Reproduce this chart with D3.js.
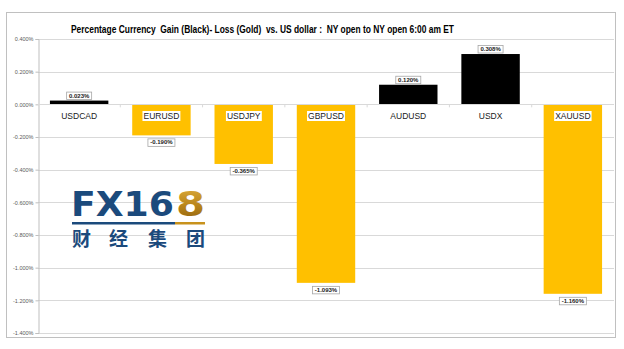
<!DOCTYPE html>
<html><head><meta charset="utf-8">
<script src="https://cdn.jsdelivr.net/npm/d3@7"></script>
<style>body{margin:0;background:#fff}svg{display:block}</style>
</head><body>
<script>
const categories = ["USDCAD","EURUSD","USDJPY","GBPUSD","AUDUSD","USDX","XAUUSD"];
const values = [0.023,-0.190,-0.365,-1.093,0.120,0.308,-1.160];
const yTicks = [0.4,0.2,0,-0.2,-0.4,-0.6,-0.8,-1.0,-1.2,-1.4];
const title = "Percentage Currency  Gain (Black)- Loss (Gold)  vs. US dollar :  NY open to NY open 6:00 am ET";

const pct = d => (d<0?"-":"") + Math.abs(d).toFixed(3) + "%";

const W=624,H=349;
const svg=d3.select("body").append("svg").attr("width",W).attr("height",H);
svg.append("rect").attr("x",6.5).attr("y",12.5).attr("width",609).attr("height",325)
  .attr("fill","#fff").attr("stroke","#c0c0c0").attr("stroke-width",1);

const x=d3.scaleBand().domain(categories).range([38,614]).paddingInner(0.29).paddingOuter(0.145);
const y=d3.scaleLinear().domain([-1.4,0.4]).range([333,39]);

// gridlines
svg.append("g").selectAll("line").data(yTicks).join("line")
  .attr("x1",38).attr("x2",614).attr("y1",d=>Math.round(y(d))+0.5).attr("y2",d=>Math.round(y(d))+0.5)
  .attr("stroke","#d9d9d9").attr("stroke-width",1);

// y axis
const ya=svg.append("g").attr("transform","translate(38.5,0)")
  .call(d3.axisLeft(y).tickValues(yTicks).tickSize(3).tickFormat(d=>pct(Math.abs(d)<1e-9?0:d)));
ya.select(".domain").attr("stroke","#bfbfbf");
ya.selectAll(".tick line").attr("stroke","#bfbfbf");
ya.selectAll(".tick text").attr("font-family","Liberation Sans, Arial").attr("font-size",5.5).attr("fill","#595959").attr("x",-5);

// logo
const logo=svg.append("g");
const defs=svg.append("defs");
const gr=defs.append("linearGradient").attr("id","gold").attr("x1",0).attr("y1",0).attr("x2",0).attr("y2",1);
gr.append("stop").attr("offset","0%").attr("stop-color","#e0b040");
gr.append("stop").attr("offset","55%").attr("stop-color","#b8841a");
gr.append("stop").attr("offset","100%").attr("stop-color","#8a5e0e");
logo.append("text").attr("x",71).attr("y",216).attr("font-family","DejaVu Sans").attr("font-weight","bold")
  .attr("font-size",34).attr("fill","#1b4a7c").attr("textLength",103).attr("lengthAdjust","spacingAndGlyphs").text("FX16");
logo.append("text").attr("x",176).attr("y",216).attr("font-family","DejaVu Sans").attr("font-weight","bold")
  .attr("font-size",34).attr("fill","url(#gold)").attr("textLength",29).attr("lengthAdjust","spacingAndGlyphs").text("8");
logo.append("rect").attr("x",72).attr("y",222).attr("width",103).attr("height",2.5).attr("fill","#1b4a7c");
logo.append("rect").attr("x",175).attr("y",222).attr("width",30).attr("height",2.5).attr("fill","#c8921c");
["财","经","集","团"].forEach((c,i)=>{
  logo.append("text").attr("x",[72,109,148,186][i]).attr("y",246).attr("font-family","Noto Sans CJK SC")
    .attr("font-weight","bold").attr("font-size",19).attr("fill","#1b4a7c").text(c);
});

// bars
svg.append("g").selectAll("rect").data(values).join("rect")
  .attr("x",(d,i)=>x(categories[i])).attr("width",x.bandwidth())
  .attr("y",d=>y(Math.max(0,d))).attr("height",d=>Math.abs(y(d)-y(0)))
  .attr("fill",d=>d>=0?"#000":"#ffc000");

// zero line
svg.append("line").attr("x1",38).attr("x2",614).attr("y1",Math.round(y(0))+0.5).attr("y2",Math.round(y(0))+0.5)
  .attr("stroke","#d9d9d9");
// category tick marks
const step=x.step();
svg.append("g").selectAll("line").data(d3.range(1,categories.length)).join("line")
  .attr("x1",d=>38+step*d).attr("x2",d=>38+step*d)
  .attr("y1",y(0)).attr("y2",y(0)+3).attr("stroke","#d9d9d9");

// category labels
const cl=svg.append("g");
categories.forEach((c,i)=>{
  const cx=x(c)+x.bandwidth()/2;
  const t=cl.append("text").attr("x",cx).attr("y",119).attr("text-anchor","middle")
    .attr("font-family","Liberation Sans, Arial").attr("font-size",8.5).attr("fill","#1a1a1a").text(c);
  const bb=t.node().getBBox();
  cl.insert("rect","text").attr("x",bb.x-1).attr("y",bb.y).attr("width",bb.width+2).attr("height",bb.height).attr("fill","#fff");
});

// data labels
const dl=svg.append("g");
values.forEach((v,i)=>{
  const cx=x(categories[i])+x.bandwidth()/2;
  const cy=v>=0?y(v)-5:y(v)+7;
  const t=dl.append("text").attr("x",cx).attr("y",cy+2).attr("text-anchor","middle")
    .attr("font-family","Liberation Sans, Arial").attr("font-weight","bold").attr("font-size",6).attr("fill","#222")
    .text(pct(v));
  const bb=t.node().getBBox();
  dl.insert("rect","text").attr("x",cx-bb.width/2-2).attr("y",cy-3.5).attr("width",bb.width+4).attr("height",7.5)
    .attr("fill","#fff").attr("stroke","#a6a6a6").attr("stroke-width",0.8);
});

// title
svg.append("text").attr("x",71).attr("y",33).attr("font-family","Liberation Sans, Arial").attr("font-weight","bold")
  .attr("font-size",10).attr("fill","#000").attr("textLength",383).attr("lengthAdjust","spacingAndGlyphs")
  .attr("xml:space","preserve").style("white-space","pre").text(title);
</script>
</body></html>
